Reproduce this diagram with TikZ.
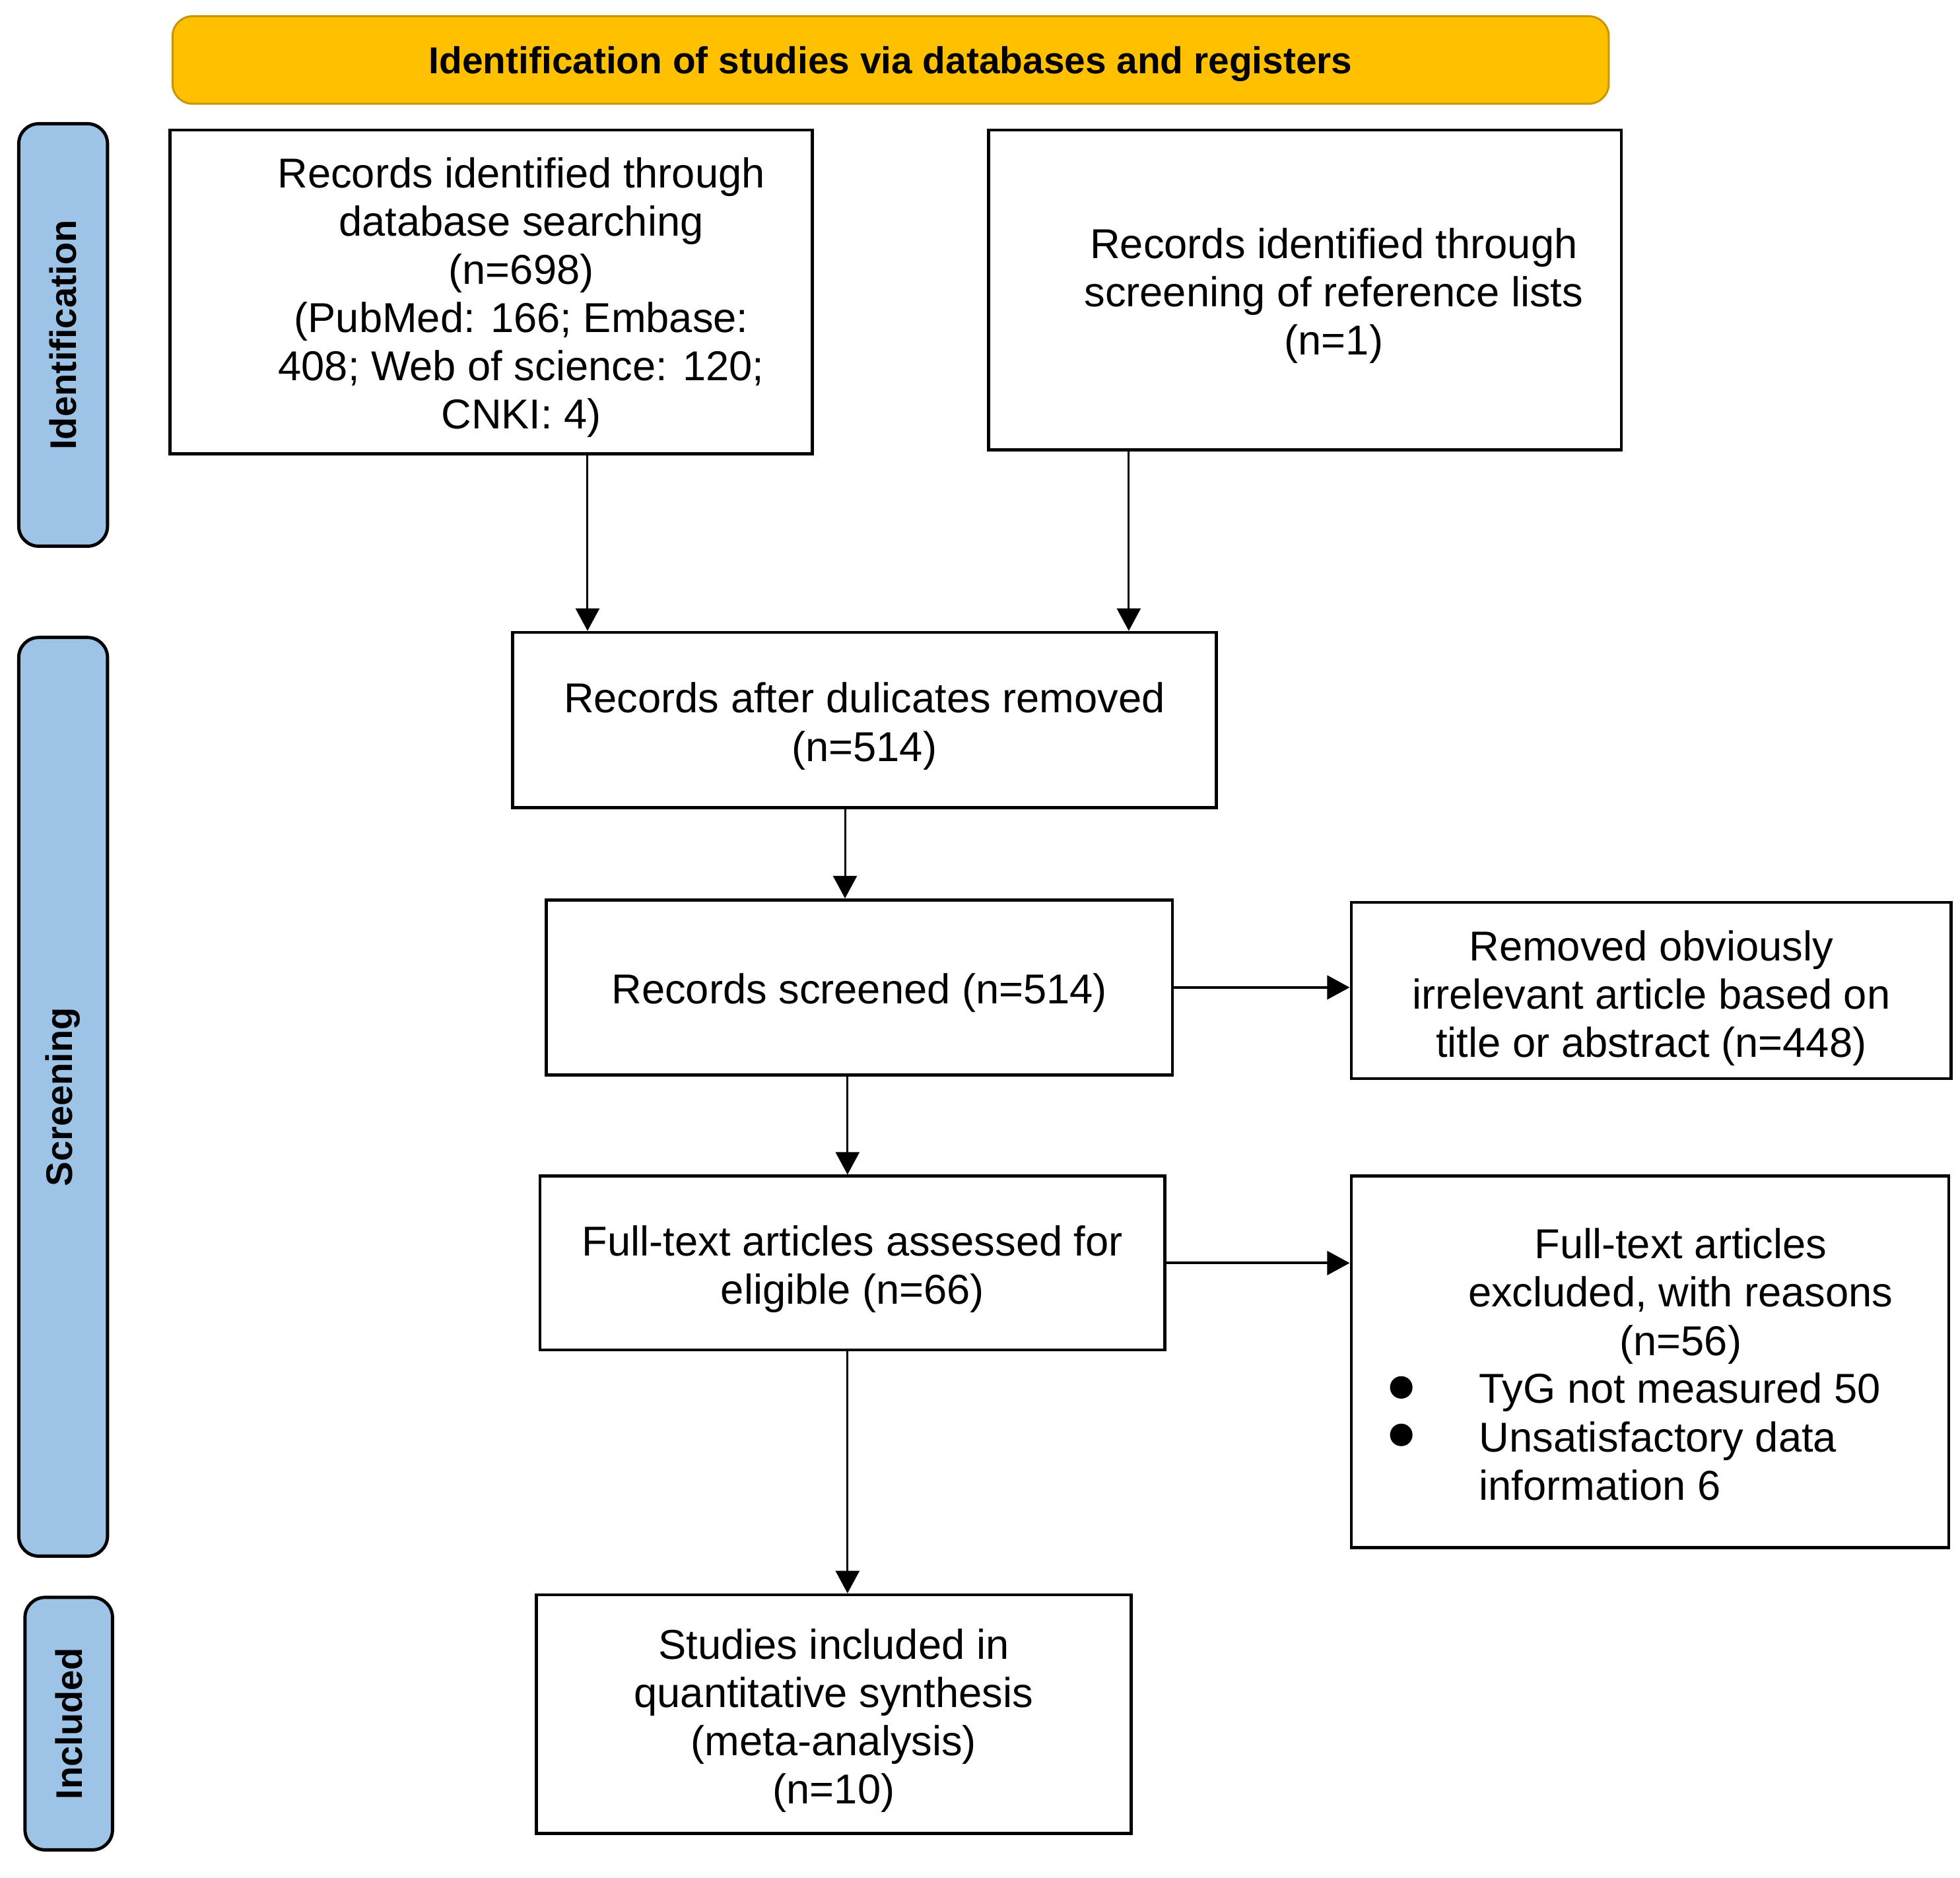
\documentclass[tikz,border=0pt]{standalone}
\usepackage{fontspec}
\setmainfont{Liberation Sans}
\usetikzlibrary{arrows.meta}
\definecolor{bannerfill}{RGB}{255,192,0}
\definecolor{bannerdraw}{RGB}{200,150,0}
\definecolor{sidefill}{RGB}{157,195,230}
\tikzset{
  box/.style={draw=black, line width=1.25pt, fill=white, inner sep=0pt},
  txt/.style={inner sep=0pt, align=center, font=\fontsize{16.7}{19.3}\selectfont},
  ltxt/.style={inner sep=0pt, align=left, font=\fontsize{16.7}{19.3}\selectfont},
  dotmark/.style={circle, fill=black, inner sep=0pt, minimum size=9pt},
  sidebar/.style={draw=black, line width=1.3pt, fill=sidefill, rounded corners=8pt, inner sep=0pt,
    font=\bfseries\fontsize{14.8}{17}\selectfont},
  banner/.style={draw=bannerdraw, line width=0.8pt, fill=bannerfill, rounded corners=8pt, inner sep=0pt},
  bantxt/.style={inner sep=0pt, font=\bfseries\fontsize{15}{18}\selectfont},
  arr/.style={draw=black, line width=0.8pt, -{Triangle[length=9pt,width=9.5pt]}},
  harr/.style={draw=black, line width=1.1pt, -{Triangle[length=9pt,width=9.5pt]}}
}
\begin{document}
\begin{tikzpicture}[x=0.5pt,y=-0.5pt]
\useasboundingbox (0,0) rectangle (1568,1502);
\fill[white] (0,0) rectangle (1568,1502);

% banner and side bars
\node[banner, minimum width=574.5pt, minimum height=35pt] (ban) at (712.5,48) {};
\node[bantxt] (bant) at (712.5,51) {Identification of studies via databases and registers};
\node[sidebar, minimum width=35.5pt, minimum height=169pt] (sid) at (50.5,268)
  {\rotatebox{90}{Identification}};
\node[sidebar, minimum width=35.5pt, minimum height=367.5pt] (sscr) at (50.5,877.5)
  {\rotatebox{90}{Screening}};
\node[sidebar, minimum width=35pt, minimum height=101pt] (sinc) at (55,1379)
  {\rotatebox{90}{Included}};

% boxes
\node[box, minimum width=257pt, minimum height=129.5pt] (b1) at (393,233.5) {};
\node[txt] (t1) at (417,238) {Records identified through\\database searching\\(n=698)\\(PubMed: 166; Embase:\\408; Web of science: 120;\\CNKI: 4)};

\node[box, minimum width=253pt, minimum height=128pt] (b2) at (1044,232) {};
\node[txt] (t2) at (1067,236.5) {Records identified through\\screening of reference lists\\(n=1)};

\node[box, minimum width=281.5pt, minimum height=70pt] (b3) at (691.5,576) {};
\node[txt] (t3) at (691.5,581) {Records after dulicates removed\\(n=514)};

\node[box, minimum width=250.5pt, minimum height=70pt] (b4) at (687.5,790) {};
\node[txt] (t4) at (687.5,794.5) {Records screened (n=514)};

\node[box, minimum width=240pt, minimum height=70.5pt] (b5) at (1321,792.5) {};
\node[txt] (t5) at (1321,798.5) {Removed obviously\\irrelevant article based on\\title or abstract (n=448)};

\node[box, minimum width=250pt, minimum height=69.5pt] (b6) at (682,1010.5) {};
\node[txt] (t6) at (682,1015.5) {Full-text articles assessed for\\eligible (n=66)};

\node[box, minimum width=239pt, minimum height=148.5pt] (b7) at (1320,1089.5) {};
\node[txt] (t7) at (1344.5,1037) {Full-text articles\\excluded, with reasons\\(n=56)};
\node[dotmark] (bul1) at (1121,1110) {};
\node[dotmark] (bul2) at (1121,1148) {};
\node[ltxt, anchor=west] (i1) at (1183,1114) {TyG not measured 50};
\node[ltxt, anchor=west] (i2) at (1183,1169) {Unsatisfactory data\\information 6};

\node[box, minimum width=238pt, minimum height=95.5pt] (b8) at (667,1371.5) {};
\node[txt] (t8) at (667,1376.5) {Studies included in\\quantitative synthesis\\(meta-analysis)\\(n=10)};

% arrow columns
\coordinate (c1) at (470,0);
\coordinate (c2) at (903,0);
\coordinate (c3) at (676,0);
\coordinate (c4) at (678,0);

\draw[arr] (b1.south -| c1) -- (b3.north -| c1);
\draw[arr] (b2.south -| c2) -- (b3.north -| c2);
\draw[arr] (b3.south -| c3) -- (b4.north -| c3);
\draw[arr] (b4.south -| c4) -- (b6.north -| c4);
\draw[arr] (b6.south -| c4) -- (b8.north -| c4);
\draw[harr] (b4.east) -- (b4.east -| b5.west);
\draw[harr] (b6.east) -- (b6.east -| b7.west);
\end{tikzpicture}
\end{document}
